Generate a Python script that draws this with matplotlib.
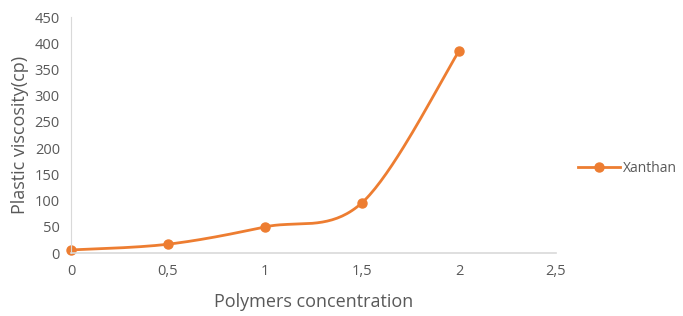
import numpy as np
import matplotlib.pyplot as plt

concentration = [0, 0.5, 1, 1.5, 2]
viscosity = [6, 17, 50, 96, 385]
x_ticks = [0, 0.5, 1, 1.5, 2, 2.5]
x_labels = ["0", "0,5", "1", "1,5", "2", "2,5"]
y_ticks = list(range(0, 451, 50))

ORANGE = "#ED7D31"
GREY = "#595959"
plt.rcParams['font.family'] = ['Open Sans', 'DejaVu Sans']


def excel_smooth(x, y, n=40):
    # Bezier smoothing similar to the spreadsheet "smoothed line"
    x = np.asarray(x, float)
    y = np.asarray(y, float)
    px, py = [], []
    for i in range(len(x) - 1):
        x0, y0 = (x[i - 1], y[i - 1]) if i > 0 else (x[i], y[i])
        x3, y3 = (x[i + 2], y[i + 2]) if i + 2 < len(x) else (x[i + 1], y[i + 1])
        c1 = (x[i] + (x[i + 1] - x0) / 6, y[i] + (y[i + 1] - y0) / 6)
        c2 = (x[i + 1] - (x3 - x[i]) / 6, y[i + 1] - (y3 - y[i]) / 6)
        t = np.linspace(0, 1, n)
        bx = (1 - t) ** 3 * x[i] + 3 * (1 - t) ** 2 * t * c1[0] + 3 * (1 - t) * t ** 2 * c2[0] + t ** 3 * x[i + 1]
        by = (1 - t) ** 3 * y[i] + 3 * (1 - t) ** 2 * t * c1[1] + 3 * (1 - t) * t ** 2 * c2[1] + t ** 3 * y[i + 1]
        px.extend(bx)
        py.extend(by)
    return np.array(px), np.array(py)


fig = plt.figure(figsize=(6.83, 3.16), dpi=100)
ax = fig.add_axes([0.104, 0.199, 0.71, 0.747])

sx, sy = excel_smooth(concentration, viscosity)
ax.plot(sx, sy, color=ORANGE, lw=2, solid_capstyle='round')
ax.plot(concentration, viscosity, 'o', color=ORANGE, ms=6.5)
ax.plot([], [], color=ORANGE, lw=2, marker='o', ms=6.5, label="Xanthan")

ax.set_xlim(0, 2.5)
ax.set_ylim(0, 450)
ax.set_xticks(x_ticks)
ax.set_xticklabels(x_labels)
ax.set_yticks(y_ticks)
for s in ['top', 'right']:
    ax.spines[s].set_visible(False)
ax.spines['left'].set_color('#D9D9D9')
ax.spines['bottom'].set_color('#D9D9D9')
ax.spines['bottom'].set_linewidth(1.2)
ax.tick_params(length=0, colors=GREY, labelsize=10.5, pad=8)
ax.set_xlabel("Polymers concentration", fontsize=13, color=GREY, labelpad=10)
ax.set_ylabel("Plastic viscosity(cp)", fontsize=13, color=GREY, labelpad=4)
for c in ax.lines[:2]:
    c.set_clip_on(False)

leg = ax.legend(loc='center left', bbox_to_anchor=(1.04, 0.36), frameon=False,
                fontsize=10, handlelength=3.0, handletextpad=0.25,
                borderpad=0.2, borderaxespad=0)
for t in leg.get_texts():
    t.set_color(GREY)

fig.savefig("out.png", dpi=100)
